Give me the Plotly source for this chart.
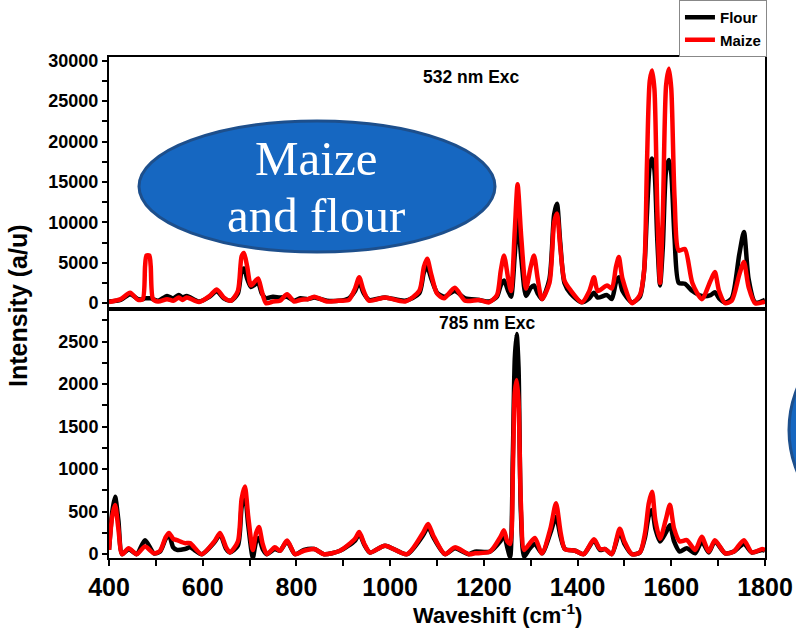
import plotly.graph_objects as go

# ---------------- data ----------------
# 532 nm excitation (top panel)
x532 = [400, 425, 445, 462, 472, 477, 480, 486, 489, 494, 505, 524, 537, 549, 557, 566, 592, 615, 630, 645,
        660, 675, 683, 688, 695, 703, 718, 726, 735, 750, 765, 780, 795, 808, 825, 838, 865, 890, 912, 925,
        934, 943, 955, 989, 1032, 1062, 1072, 1079, 1088, 1100, 1115, 1138, 1160, 1190, 1211, 1228, 1236, 1243, 1252, 1258,
        1266, 1272, 1280, 1290, 1300, 1307, 1315, 1324, 1340, 1350, 1356, 1363, 1372, 1385, 1409, 1425, 1435, 1443, 1463, 1473,
        1482, 1488, 1496, 1516, 1533, 1542, 1548, 1554, 1559, 1564, 1570, 1576, 1582, 1589, 1595, 1600, 1607, 1616, 1629, 1645,
        1665, 1684, 1693, 1702, 1715, 1729, 1745, 1755, 1765, 1779, 1800]
maize532 = [150, 500, 1300, 400, 500, 4600, 5900, 5900, 4600, 500, 200, 500, 300, 700, 400, 700, 150, 900, 1700, 700,
            300, 1500, 5800, 6200, 4500, 2200, 3050, 1500, 0, 200, 300, 1100, 200, 400, 500, 800, 200, 300, 400, 1800,
            3200, 1600, 300, 700, 200, 1500, 4500, 5500, 3500, 1200, 600, 1900, 300, 400, 100, 1000, 4000, 5900, 3000, 1500,
            9000, 14700, 8000, 1800, 4500, 5900, 3000, 500, 2500, 10000, 11100, 7000, 2800, 1600, 100, 1500, 3200, 1500, 2200, 1800,
            4500, 5700, 3000, 0, 1000, 4000, 17000, 27500, 28800, 26500, 12000, 2500, 11000, 27000, 29000, 26500, 13000, 6500, 6700, 2500,
            500, 2800, 3850, 1500, 0, 300, 3500, 5100, 2000, 0, 200]
flour532 = [200, 400, 1100, 500, 500, 600, 600, 600, 600, 500, 300, 900, 600, 1000, 700, 900, 200, 800, 1500, 600,
            300, 1200, 4000, 4300, 3000, 2000, 2500, 1200, 600, 800, 700, 800, 300, 600, 500, 700, 300, 300, 600, 1500,
            2600, 1300, 400, 700, 300, 1200, 3800, 4500, 3000, 1300, 800, 1500, 600, 400, 200, 800, 2200, 2800, 1500, 800,
            6000, 10500, 5500, 900, 1900, 2200, 1200, 500, 3000, 11000, 12300, 7500, 2500, 1200, 100, 600, 1300, 700, 1000, 500,
            2600, 3200, 1500, 100, 800, 4000, 11000, 17000, 17900, 16500, 8000, 2200, 7000, 16500, 17700, 16000, 8000, 2500, 2400, 1500,
            900, 1000, 1360, 600, 100, 600, 6000, 8800, 3000, 100, 400]

# 785 nm excitation (bottom panel)
x785 = [400, 407, 413, 420, 428, 442, 459, 477, 496, 509, 521, 528, 537, 545, 562, 573, 598, 625, 637, 650,
        658, 675, 683, 690, 697, 707, 714, 720, 728, 737, 754, 765, 780, 797, 816, 838, 859, 893, 925, 934,
        945, 957, 989, 1036, 1070, 1081, 1092, 1117, 1138, 1168, 1181, 1213, 1235, 1243, 1250, 1256, 1262, 1266, 1270, 1274,
        1279, 1286, 1297, 1309, 1324, 1342, 1354, 1364, 1373, 1395, 1413, 1435, 1448, 1459, 1473, 1490, 1500, 1516, 1533, 1544,
        1552, 1559, 1566, 1576, 1588, 1597, 1606, 1618, 1633, 1651, 1665, 1680, 1693, 1715, 1733, 1755, 1772, 1794, 1800]
maize785 = [50, 450, 578, 300, 0, 70, 0, 90, 10, 40, 200, 250, 180, 165, 130, 130, 0, 150, 250, 80,
            20, 150, 650, 795, 450, 50, 250, 320, 120, 0, 80, 40, 160, 0, 40, 60, 0, 40, 180, 260,
            120, 20, 100, 0, 250, 355, 220, 0, 80, 0, 10, 30, 200, 280, 150, 120, 1000, 1900, 2050, 1800,
            600, 50, 120, 190, 10, 300, 600, 250, 60, 40, 0, 175, 60, 60, 0, 300, 150, 0, 20, 250,
            600, 735, 400, 180, 400, 580, 300, 150, 165, 50, 205, 30, 165, 10, 30, 165, 20, 60, 50]
flour785 = [50, 500, 676, 400, 0, 60, 0, 165, 10, 30, 180, 225, 80, 50, 60, 80, 0, 140, 230, 60,
            20, 100, 550, 700, 350, -40, 150, 190, 60, 0, 60, 40, 150, 0, 50, 60, 0, 40, 160, 240,
            110, 20, 100, 0, 220, 320, 200, 0, 70, 0, 30, 30, 150, 220, 80, -30, 1200, 2300, 2590, 2200,
            500, -30, 60, 120, 10, 250, 440, 200, 60, 40, 0, 160, 50, 60, 0, 260, 120, 0, 20, 200,
            450, 520, 300, 150, 250, 340, 150, 30, 70, 10, 150, 20, 150, 10, 30, 120, 20, 50, 40]

series_names = ["Flour", "Maize"]
series_colors = ["#000000", "#ff0000"]
panel_labels = ["532 nm Exc", "785 nm Exc"]
x_ticks = [400, 600, 800, 1000, 1200, 1400, 1600, 1800]
y_ticks_532 = [0, 5000, 10000, 15000, 20000, 25000, 30000]
y_ticks_785 = [0, 500, 1000, 1500, 2000, 2500]

# ---------------- figure ----------------
W, H = 796, 643
L, R, T, B = 109, 31, 57, 85
pw, ph = W - L - R, H - T - B


def px(xp):
    return (xp - L) / pw


def py(yp):
    return (H - B - yp) / ph


FONT = "Liberation Sans, Arial, sans-serif"
SERIF = "Liberation Serif, serif"

fig = go.Figure()
# top panel (x2, y2)
for name, col, yv in zip(series_names, series_colors, [flour532, maize532]):
    fig.add_trace(go.Scatter(x=x532, y=yv, mode="lines", name=name,
                             line=dict(color=col, width=4.5, shape="spline", smoothing=0.7),
                             xaxis="x2", yaxis="y2", showlegend=True))
# bottom panel (x, y)
for name, col, yv in zip(series_names, series_colors, [flour785, maize785]):
    fig.add_trace(go.Scatter(x=x785, y=yv, mode="lines", name=name,
                             line=dict(color=col, width=4.5, shape="spline", smoothing=0.7),
                             xaxis="x", yaxis="y", showlegend=False))

split = py(308.5)
axis_common = dict(showline=True, linewidth=2, linecolor="black", mirror=True,
                   showgrid=False, zeroline=False)

fig.update_layout(
    width=W, height=H,
    margin=dict(l=L, r=R, t=T, b=B, autoexpand=False),
    plot_bgcolor="white", paper_bgcolor="white",
    xaxis=dict(domain=[0, 1], range=[400, 1800], anchor="y",
               tickvals=x_ticks, tickformat="d",
               ticks="outside", ticklen=6, tickwidth=2, tickcolor="black",
               minor=dict(dtick=100, ticks="outside", ticklen=6, tickwidth=2, tickcolor="black"),
               tickfont=dict(family=FONT, size=25, color="black", weight="bold"),
               **axis_common),
    yaxis=dict(domain=[0, split], range=[-45, 2890], anchor="x",
               tickvals=y_ticks_785, tickformat="d",
               ticks="outside", ticklen=5, tickwidth=2, tickcolor="black",
               minor=dict(dtick=250, ticks="outside", ticklen=5, tickwidth=2, tickcolor="black"),
               tickfont=dict(family=FONT, size=18, color="black", weight="bold"),
               **axis_common),
    xaxis2=dict(domain=[0, 1], range=[400, 1800], anchor="y2", matches="x",
                showticklabels=False, ticks="", **axis_common),
    yaxis2=dict(domain=[split, 1], range=[-660, 30460], anchor="x2",
                tickvals=y_ticks_532, tickformat="d",
                ticks="outside", ticklen=5, tickwidth=2, tickcolor="black",
                minor=dict(dtick=2500, ticks="outside", ticklen=5, tickwidth=2, tickcolor="black"),
                tickfont=dict(family=FONT, size=18, color="black", weight="bold"),
                **axis_common),
    showlegend=True,
    legend=dict(x=1.003, y=1.0, xanchor="right", yanchor="bottom",
                bgcolor="white", bordercolor="#888888", borderwidth=1,
                font=dict(family=FONT, size=15, color="black", weight="bold"),
                itemwidth=30, tracegroupgap=0),
)

annotations = [
    dict(text=panel_labels[0], x=px(471), y=py(77)),
    dict(text=panel_labels[1], x=px(487), y=py(323)),
]
annotations = [dict(a, xref="paper", yref="paper", xanchor="center", yanchor="middle", showarrow=False,
                    font=dict(family=FONT, size=17.5, color="black", weight="bold")) for a in annotations]
annotations += [
    dict(text="Intensity (a/u)", x=px(18), y=py(305), textangle=-90,
         font=dict(family=FONT, size=25, color="black", weight="bold")),
    dict(text="Waveshift (cm<sup>-1</sup>)", x=px(497), y=py(614),
         font=dict(family=FONT, size=22, color="black", weight="bold")),
    dict(text="Maize", x=px(316), y=py(158), font=dict(family=SERIF, size=49, color="white")),
    dict(text="and flour", x=px(316), y=py(215), font=dict(family=SERIF, size=49, color="white")),
]
for a in annotations[2:]:
    a.update(xref="paper", yref="paper", xanchor="center", yanchor="middle", showarrow=False)
fig.update_layout(annotations=annotations)

shapes = [
    dict(type="circle", xref="paper", yref="paper",
         x0=px(139), x1=px(495), y0=py(252), y1=py(121),
         fillcolor="#1667c1", line=dict(color="#1d4f8c", width=3), layer="above"),
    dict(type="circle", xref="paper", yref="paper",
         x0=px(789), x1=px(969), y0=py(530), y1=py(330),
         fillcolor="#1667c1", line=dict(color="#1d4f8c", width=3), layer="above"),
]
fig.update_layout(shapes=shapes)

fig.write_html("out.html")
